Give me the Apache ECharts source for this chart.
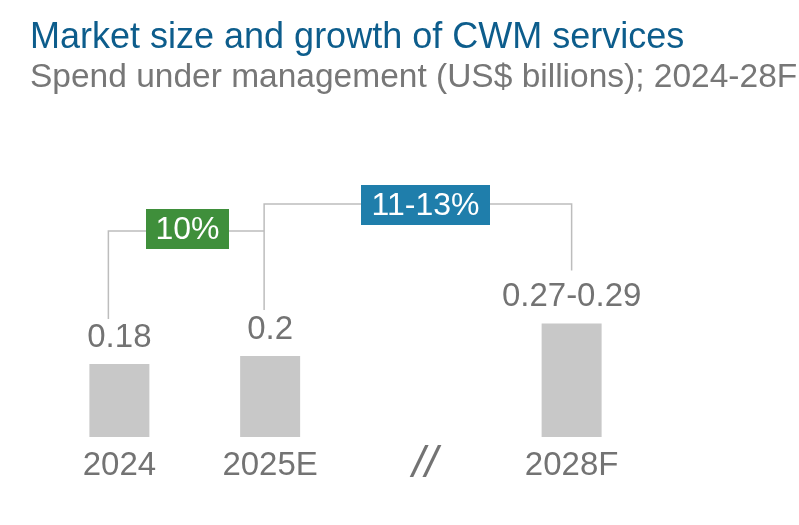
<!DOCTYPE html>
<html>
<head>
<meta charset="utf-8">
<script src="https://cdn.jsdelivr.net/npm/echarts@6/dist/echarts.min.js"></script>
<style>html,body{margin:0;padding:0;background:#fff}#c{width:799px;height:525px}</style>
</head>
<body>
<div id="c"></div>
<script>
// ---- data ----
var categories = ['2024', '2025E', '//', '2028F'];
var values = [0.18, 0.2, null, 0.28];
var valueLabels = ['0.18', '0.2', '', '0.27-0.29'];
var growthLabels = ['10%', '11-13%'];
var titleText = 'Market size and growth of CWM services';
var subtitleText = 'Spend under management (US$ billions); 2024-28F';

var FONT = '"Liberation Sans", Arial, sans-serif';
var GRAY = '#737373';
var chart = echarts.init(document.getElementById('c'), null, {renderer: 'canvas'});

chart.setOption({
  animation: false,
  title: [
    {text: titleText, left: 25, top: 15,
     textStyle: {color: '#0d5d8c', fontSize: 36, fontWeight: 'normal', fontFamily: FONT}},
    {text: subtitleText, left: 25, top: 56,
     textStyle: {color: '#777777', fontSize: 33.5, fontWeight: 'normal', fontFamily: FONT}}
  ],
  grid: {left: 44, right: 152, top: 194, bottom: 88},
  xAxis: {
    type: 'category', data: categories,
    axisLine: {show: false}, axisTick: {show: false},
    axisLabel: {
      color: GRAY, fontSize: 33, fontFamily: FONT, margin: 12, interval: 0,
      formatter: function (v) { return v === '//' ? '{brk|//}' : v; },
      rich: {brk: {fontSize: 45, lineHeight: 30, fontStyle: 'italic', color: GRAY, fontFamily: FONT, padding: [0, 0, 0, 8]}}
    }
  },
  yAxis: {type: 'value', min: 0, max: 0.6, show: false, splitLine: {show: false}},
  series: [{
    type: 'bar', data: values, barWidth: 60,
    itemStyle: {color: '#c8c8c8'},
    label: {
      show: true, position: 'top', distance: 10, color: GRAY, fontSize: 33, fontFamily: FONT,
      formatter: function (p) { return valueLabels[p.dataIndex]; }
    }
  }]
});

// ---- connectors (positioned from the axes) ----
function px(i) { return chart.convertToPixel({seriesIndex: 0}, [i, values[i]]); }
var p0 = px(0), p1 = px(1), p3 = px(3);
var lineStyle = {stroke: '#bdbdbd', lineWidth: 1.5};
var yA = 231, yB = 204;
var x0 = p0[0] - 11, x1 = p1[0] - 6, x3 = p3[0];
var gBox = {x: 146, y: 209, w: 83, h: 40};
var bBox = {x: 361, y: 185, w: 129, h: 40};
function seg(pts) { return {type: 'polyline', shape: {points: pts}, style: lineStyle, z: 10}; }
chart.setOption({
  graphic: [
    seg([[x0, p0[1] - 45], [x0, yA], [gBox.x, yA]]),
    seg([[gBox.x + gBox.w, yA], [x1, yA]]),
    seg([[x1, p1[1] - 46], [x1, yB], [bBox.x, yB]]),
    seg([[bBox.x + bBox.w, yB], [x3, yB], [x3, p3[1] - 53]]),
    {type: 'rect', shape: {x: gBox.x, y: gBox.y, width: gBox.w, height: gBox.h}, style: {fill: '#3f8f3b'}, z: 11},
    {type: 'text', x: gBox.x + gBox.w / 2, y: gBox.y + gBox.h / 2 + 1, z: 12,
     style: {text: growthLabels[0], fill: '#fff', fontSize: 32, fontFamily: FONT, align: 'center', verticalAlign: 'middle'}},
    {type: 'rect', shape: {x: bBox.x, y: bBox.y, width: bBox.w, height: bBox.h}, style: {fill: '#1f7eab'}, z: 11},
    {type: 'text', x: bBox.x + bBox.w / 2, y: bBox.y + bBox.h / 2 + 1, z: 12,
     style: {text: growthLabels[1], fill: '#fff', fontSize: 32, fontFamily: FONT, align: 'center', verticalAlign: 'middle'}}
  ]
});
</script>
</body>
</html>
